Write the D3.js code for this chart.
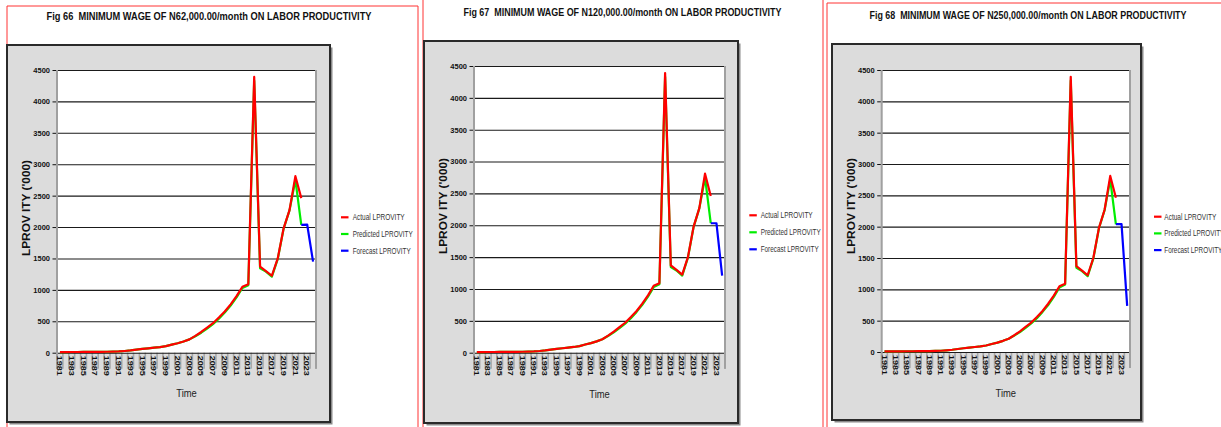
<!DOCTYPE html>
<html>
<head>
<meta charset="utf-8">
<script src="https://cdn.jsdelivr.net/npm/d3@7"></script>
<style>
  html, body { margin: 0; padding: 0; background: #ffffff; }
  svg { display: block; font-family: "Liberation Sans", Arial, sans-serif; }
  .ttl { white-space: pre; }
</style>
</head>
<body>
<svg id="chart" width="1221" height="427"></svg>
<script>
// ---------- DATA ----------
const years = ["1981","1982","1983","1984","1985","1986","1987","1988","1989","1990",
  "1991","1992","1993","1994","1995","1996","1997","1998","1999","2000",
  "2001","2002","2003","2004","2005","2006","2007","2008","2009","2010",
  "2011","2012","2013","2014","2015","2016","2017","2018","2019","2020",
  "2021","2022","2023","2024"];
const tickYears = ["1981","1983","1985","1987","1989","1991","1993","1995","1997","1999",
  "2001","2003","2005","2007","2009","2011","2013","2015","2017","2019","2021","2023"];
const actualYears = years.slice(0, 42); // 1981..2022
const actual = [10,10,11,11,12,12,13,14,15,17,
  20,27,36,48,60,70,80,90,104,128,
  150,178,212,268,330,400,470,560,655,770,
  900,1050,1090,4390,1370,1300,1225,1500,1980,2270,
  2810,2460];
const predicted = [10,10,11,11,12,12,13,14,15,17,
  20,27,36,48,60,70,80,90,104,128,
  150,178,212,262,318,385,455,540,640,750,
  880,1030,1075,4330,1345,1290,1210,1490,1975,2265,
  2750,2035];
const forecastYears = ["2022","2023","2024"];
const forecast62  = [2035, 2040, 1450];
const forecast120 = [2032, 2032, 1210];
const forecast250 = [2040, 2040, 735];
const yTicks = [0,500,1000,1500,2000,2500,3000,3500,4000,4500];
const titles = [
  "Fig 66  MINIMUM WAGE OF N62,000.00/month ON LABOR PRODUCTIVITY",
  "Fig 67  MINIMUM WAGE OF N120,000.00/month ON LABOR PRODUCTIVITY",
  "Fig 68  MINIMUM WAGE OF N250,000.00/month ON LABOR PRODUCTIVITY"
];
const seriesNames = ["Actual LPROVITY", "Predicted LPROVITY", "Forecast LPROVITY"];
const seriesColors = ["#ff0000", "#00ee00", "#0000ff"];
const yTitle = "LPROV ITY ('000)";
const xTitle = "Time";

// ---------- LAYOUT ----------
const panels = [
  { forecast: forecast62,
    frame: {l: 7, r: 418, t: 6},
    title: {x: 209, y: 20, len: 325},
    box: {x: 7, y: 45, w: 323, h: 377},
    plot: {l: 57, r: 316, t: 70, b: 352.7},
    legend: {x: 341, y: 217.3, textX: 352.7, gap: 16.7},
    ylab: {x: 26.7, y: 208},
    time: {x: 186.5, y: 397} },
  { forecast: forecast120,
    frame: {l: 423, r: 823, t: -5},
    title: {x: 622.5, y: 15.5, len: 318},
    box: {x: 424, y: 41, w: 314, h: 382},
    plot: {l: 474, r: 725, t: 66, b: 352.7},
    legend: {x: 749.3, y: 215.3, textX: 760.7, gap: 17},
    ylab: {x: 443.3, y: 206},
    time: {x: 599.5, y: 398} },
  { forecast: forecast250,
    frame: {l: 827, r: 1240, t: 3},
    title: {x: 1028, y: 18.5, len: 317},
    box: {x: 832, y: 44, w: 309, h: 376},
    plot: {l: 881.7, r: 1130, t: 70, b: 352},
    legend: {x: 1154, y: 216.7, textX: 1164.3, gap: 16.7},
    ylab: {x: 851.7, y: 206},
    time: {x: 1005.8, y: 397} }
];

const svg = d3.select("#chart");

panels.forEach((p, idx) => {
  const g = svg.append("g");

  // document frame (red)
  g.append("path")
    .attr("d", `M${p.frame.l},430 L${p.frame.l},${p.frame.t} L${p.frame.r},${p.frame.t} L${p.frame.r},430`)
    .attr("fill", "none").attr("stroke", "#ff3333").attr("stroke-width", 1);

  // title
  g.append("text")
    .attr("class", "ttl")
    .attr("x", p.title.x).attr("y", p.title.y)
    .attr("text-anchor", "middle")
    .attr("font-size", 10.5).attr("font-weight", "bold").attr("fill", "#111")
    .attr("textLength", p.title.len).attr("lengthAdjust", "spacingAndGlyphs")
    .text(titles[idx]);

  // chart area box with shadow
  g.append("rect")
    .attr("x", p.box.x + 2.5).attr("y", p.box.y + 2.5)
    .attr("width", p.box.w).attr("height", p.box.h)
    .attr("fill", "#8a8a8a");
  g.append("rect")
    .attr("x", p.box.x).attr("y", p.box.y)
    .attr("width", p.box.w).attr("height", p.box.h)
    .attr("fill", "#dcdcdc").attr("stroke", "#2a2a2a").attr("stroke-width", 2);

  // scales
  const x = d3.scaleBand().domain(years).range([p.plot.l, p.plot.r]).padding(0);
  const cx = d => x(d) + x.bandwidth() / 2;
  const y = d3.scaleLinear().domain([0, 4500]).range([p.plot.b, p.plot.t]);

  // plot area
  g.append("rect")
    .attr("x", p.plot.l).attr("y", p.plot.t)
    .attr("width", p.plot.r - p.plot.l).attr("height", p.plot.b - p.plot.t)
    .attr("fill", "#ffffff");

  // x boundary ticks (gray)
  const edges = years.map(d => x(d)).concat([p.plot.r]);
  g.append("g").selectAll("line").data(edges).join("line")
    .attr("x1", d => d).attr("x2", d => d)
    .attr("y1", p.plot.b).attr("y2", p.plot.b + 16)
    .attr("stroke", "#a8a8a8").attr("stroke-width", 1.6);

  // y ticks + labels via axis
  const yAxis = d3.axisLeft(y).tickValues(yTicks).tickSize(4.5).tickPadding(2.5)
    .tickFormat(d3.format("d"));
  const ya = g.append("g").attr("transform", `translate(${p.plot.l},0)`).call(yAxis);
  ya.select(".domain").remove();
  ya.selectAll(".tick line").attr("stroke", "#111").attr("stroke-width", 1);
  ya.selectAll(".tick text")
    .attr("font-size", 7.5).attr("font-weight", "bold").attr("fill", "#111")
    .attr("font-family", "'Liberation Sans', Arial, sans-serif");

  // gridlines
  const grid = d3.axisLeft(y).tickValues(yTicks).tickSize(-(p.plot.r - p.plot.l)).tickFormat("");
  const gg = g.append("g").attr("transform", `translate(${p.plot.l},0)`).call(grid);
  gg.select(".domain").remove();
  gg.selectAll(".tick line").attr("stroke", "#1a1a1a").attr("stroke-width", 1.1);

  // plot side borders (gray)
  [p.plot.l, p.plot.r].forEach(xx => {
    g.append("line")
      .attr("x1", xx).attr("x2", xx)
      .attr("y1", p.plot.t).attr("y2", p.plot.b + 16)
      .attr("stroke", "#a0a0a0").attr("stroke-width", 2);
  });

  // x axis labels
  const xAxis = d3.axisBottom(x).tickValues(tickYears).tickSize(0).tickPadding(0);
  const xa = g.append("g").attr("transform", `translate(0,${p.plot.b})`).call(xAxis);
  xa.select(".domain").remove();
  xa.selectAll(".tick text")
    .attr("transform", "rotate(90)")
    .attr("x", 3).attr("y", 0).attr("dy", "0.35em")
    .style("text-anchor", "start")
    .attr("font-size", 8).attr("font-weight", "bold").attr("fill", "#111")
    .attr("font-family", "'Liberation Sans', Arial, sans-serif")
    .attr("textLength", 20).attr("lengthAdjust", "spacingAndGlyphs");

  // lines
  const lineA = d3.line().x((d, i) => cx(actualYears[i])).y(d => y(d));
  g.append("path").datum(predicted)
    .attr("d", lineA).attr("fill", "none")
    .attr("stroke", seriesColors[1]).attr("stroke-width", 2.2).attr("stroke-linejoin", "round");
  g.append("path").datum(actual)
    .attr("d", lineA).attr("fill", "none")
    .attr("stroke", seriesColors[0]).attr("stroke-width", 2.2).attr("stroke-linejoin", "round");
  const lineF = d3.line().x((d, i) => cx(forecastYears[i])).y(d => y(d));
  g.append("path").datum(p.forecast)
    .attr("d", lineF).attr("fill", "none")
    .attr("stroke", seriesColors[2]).attr("stroke-width", 2.2).attr("stroke-linejoin", "round");

  // y title
  g.append("text")
    .attr("transform", `translate(${p.ylab.x},${p.ylab.y}) rotate(-90)`)
    .attr("text-anchor", "middle").attr("dy", "0.35em")
    .attr("font-size", 10).attr("font-weight", "bold").attr("fill", "#111")
    .attr("textLength", 96).attr("lengthAdjust", "spacingAndGlyphs")
    .text(yTitle);

  // x title
  g.append("text")
    .attr("x", p.time.x).attr("y", p.time.y)
    .attr("text-anchor", "middle")
    .attr("font-size", 11.5).attr("fill", "#222")
    .attr("textLength", 20.5).attr("lengthAdjust", "spacingAndGlyphs")
    .text(xTitle);

  // legend
  const lens = [52, 60, 58];
  seriesNames.forEach((name, k) => {
    const ly = p.legend.y + k * p.legend.gap;
    g.append("line")
      .attr("x1", p.legend.x).attr("x2", p.legend.x + 7.5)
      .attr("y1", ly).attr("y2", ly)
      .attr("stroke", seriesColors[k]).attr("stroke-width", 2.2);
    g.append("text")
      .attr("x", p.legend.textX).attr("y", ly).attr("dy", "0.35em")
      .attr("font-size", 8.5).attr("fill", "#333")
      .attr("textLength", lens[k]).attr("lengthAdjust", "spacingAndGlyphs")
      .text(name);
  });
});
</script>
</body>
</html>
